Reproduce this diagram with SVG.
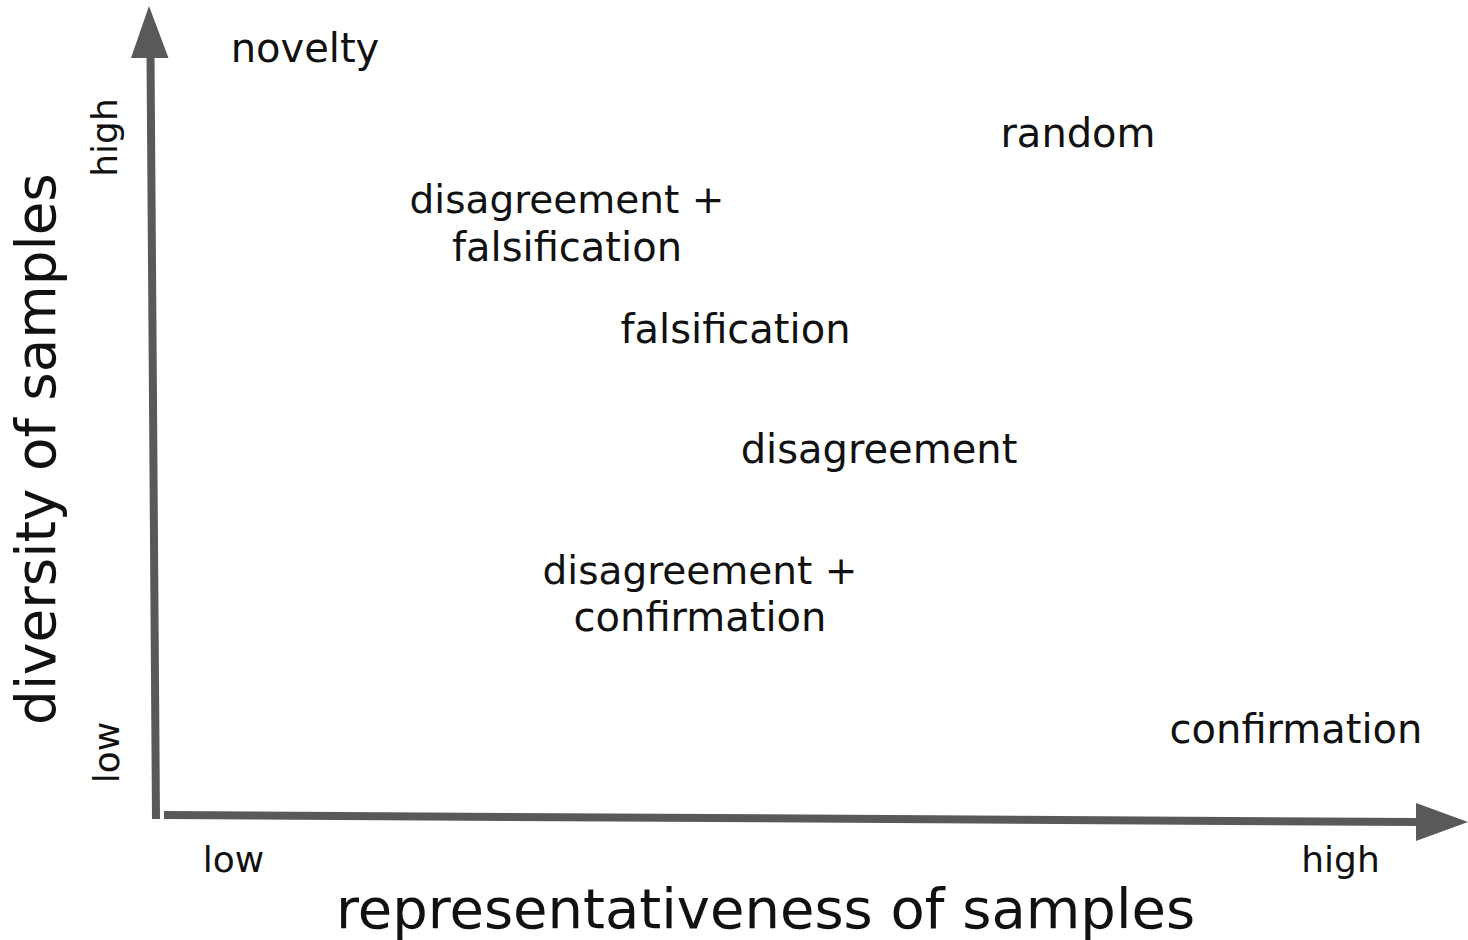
<svg xmlns="http://www.w3.org/2000/svg" width="1468" height="940" viewBox="0 0 1468 940">
<style>
text{font-family:"DejaVu Sans","Liberation Sans",sans-serif;fill:#111;text-anchor:middle}
.lbl{font-size:40px}
.tick{font-size:36px}
.axt{font-size:54.8px}
.ax{stroke:#595959;stroke-width:8;fill:none}
.head{fill:#595959}
</style>
<rect width="1468" height="940" fill="#fff"/>
<g id="connectors">
<line class="ax" x1="156" y1="819" x2="150.5" y2="55"/>
<polygon class="head" points="149,6 168.5,58 131,58"/>
<line class="ax" x1="164" y1="815" x2="1418" y2="822"/>
<polygon class="head" points="1416,803 1468,822 1416,841"/>
</g>
<g id="axis-x-title"><text class="axt" x="765.5" y="928" style="font-size:56px">representativeness of samples</text></g>
<g id="axis-y-title"><text class="axt" transform="translate(55,449) rotate(-90)">diversity of samples</text></g>
<g id="x-low"><text class="tick" x="233.5" y="872">low</text></g>
<g id="x-high"><text class="tick" x="1340.5" y="872">high</text></g>
<g id="y-low"><text class="tick" transform="translate(119,752.5) rotate(-90)">low</text></g>
<g id="y-high"><text class="tick" transform="translate(117,137.5) rotate(-90)">high</text></g>
<g id="novelty"><text class="lbl" x="305" y="62">novelty</text></g>
<g id="random"><text class="lbl" x="1078" y="147">random</text></g>
<g id="disagreement-falsification"><text class="lbl" x="567" y="213" style="font-size:39px">disagreement +</text><text class="lbl" x="567" y="261">falsification</text></g>
<g id="falsification"><text class="lbl" x="735.5" y="343">falsification</text></g>
<g id="disagreement"><text class="lbl" x="879" y="463">disagreement</text></g>
<g id="disagreement-confirmation"><text class="lbl" x="700" y="584" style="font-size:39px">disagreement +</text><text class="lbl" x="700" y="631">confirmation</text></g>
<g id="confirmation"><text class="lbl" x="1296" y="743">confirmation</text></g>
</svg>
